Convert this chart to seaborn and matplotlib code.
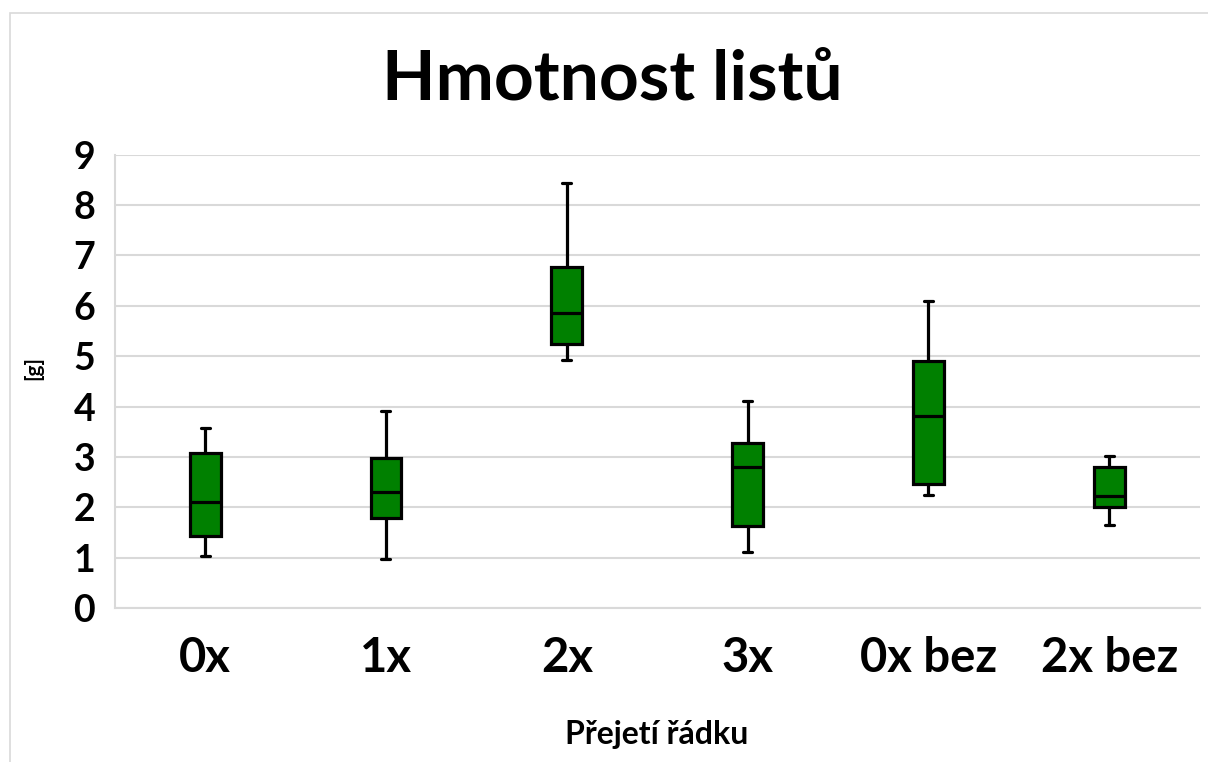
import pandas as pd
import numpy as np
import matplotlib.pyplot as plt
import seaborn as sns
from matplotlib.patches import Rectangle

# --- data (five-number summary per group) ---
categories = ['0x', '1x', '2x', '3x', '0x bez', '2x bez']
mins    = [1.03, 0.98, 4.93, 1.11, 2.25, 1.64]
q1s     = [1.44, 1.79, 5.25, 1.62, 2.47, 2.01]
medians = [2.10, 2.30, 5.85, 2.80, 3.81, 2.23]
q3s     = [3.08, 2.98, 6.77, 3.28, 4.90, 2.81]
maxs    = [3.57, 3.91, 8.44, 4.12, 6.10, 3.01]

# long table: the 5 summary values per group, with whis=(0, 100) the
# boxplot reproduces exactly min / q1 / median / q3 / max
rows = []
for i, cat in enumerate(categories):
    for v in (mins[i], q1s[i], medians[i], q3s[i], maxs[i]):
        rows.append({'group': cat, 'weight': v})
df = pd.DataFrame(rows)

sns.set_theme(style='white')
plt.rcParams['font.family'] = ['Lato', 'DejaVu Sans']
plt.rcParams['font.weight'] = 'bold'
for key in ['text.color', 'axes.labelcolor', 'xtick.color', 'ytick.color']:
    plt.rcParams[key] = 'black'

fig = plt.figure(figsize=(12.08, 7.62), dpi=100)
ax = fig.add_axes([0.095, 0.202, 0.898, 0.595])

grid_col = '#d9d9d9'
ax.set_axisbelow(True)
ax.yaxis.grid(True, color=grid_col, linewidth=1.5)

sns.boxplot(
    data=df, x='group', y='weight', order=categories, ax=ax,
    whis=(0, 100), width=0.17, color='#008000', saturation=1,
    linecolor='black', linewidth=2.3, showfliers=False,
    capwidths=0.05,
)

ax.set_ylim(0, 9)
ax.set_yticks(range(0, 10))
ax.set_xlim(-0.5, len(categories) - 0.5)

for side in ['top', 'right']:
    ax.spines[side].set_visible(False)
for side in ['left', 'bottom']:
    ax.spines[side].set_color(grid_col)
    ax.spines[side].set_linewidth(1.5)

ax.tick_params(axis='y', length=0, pad=14, labelsize=27)
ax.tick_params(axis='x', length=0, pad=20, labelsize=34)
for lab in ax.get_xticklabels() + ax.get_yticklabels():
    lab.set_fontweight('bold')

ax.set_xlabel('Přejetí řádku', fontsize=23, fontweight='bold', labelpad=29)
ax.set_ylabel('[g]', fontsize=15, fontweight='bold')
ax.yaxis.set_label_coords(-0.066, 0.53)

fig.text(0.507, 0.869, 'Hmotnost listů', fontsize=50, fontweight='bold',
         ha='center', va='baseline')

# light outer chart border
fig.patches.append(Rectangle((10 / 1208, -0.2), 1.2, 1.2 - 13 / 762,
                             transform=fig.transFigure, fill=False,
                             edgecolor=grid_col, linewidth=1.2))

plt.savefig('out.png', dpi=100)
